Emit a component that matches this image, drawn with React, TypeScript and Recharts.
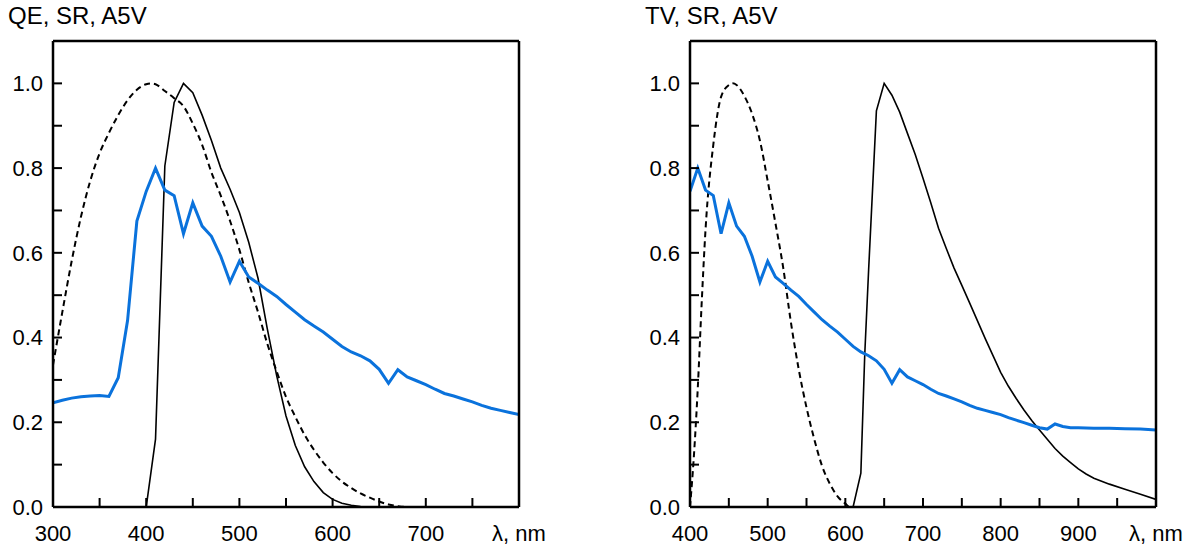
import React from 'react';
import { LineChart, Line, XAxis, YAxis } from 'recharts';

// QE curve (blue), shared by both panels
const qeNm = [300, 310, 320, 330, 340, 350, 360, 370, 380, 390, 400, 410, 420, 430, 440, 450, 460, 470, 480, 490, 500, 510, 520, 530, 540, 550, 560, 570, 580, 590, 600, 610, 620, 630, 640, 650, 660, 670, 680, 690, 700, 710, 720, 730, 740, 750, 760, 770, 780, 790, 800, 810, 820, 830, 840, 850, 860, 870, 880, 890, 900, 920, 940, 960, 980, 1000];
const qeVal = [0.246, 0.252, 0.257, 0.26, 0.262, 0.263, 0.261, 0.305, 0.44, 0.675, 0.745, 0.8, 0.748, 0.735, 0.645, 0.718, 0.663, 0.639, 0.592, 0.531, 0.58, 0.543, 0.528, 0.512, 0.497, 0.478, 0.46, 0.442, 0.427, 0.413, 0.396, 0.379, 0.366, 0.357, 0.345, 0.325, 0.292, 0.324, 0.307, 0.298, 0.289, 0.278, 0.268, 0.262, 0.255, 0.248, 0.24, 0.233, 0.228, 0.223, 0.218, 0.211, 0.205, 0.199, 0.193, 0.187, 0.184, 0.196, 0.19, 0.187, 0.187, 0.186, 0.186, 0.185, 0.184, 0.182];

// spectral response, left panel (solid)
const srNm = [400, 410, 420, 430, 440, 450, 460, 470, 480, 490, 500, 510, 520, 530, 540, 550, 560, 570, 580, 590, 600, 610, 620, 630, 640, 800];
const srVal = [0, 0.16, 0.805, 0.955, 1.0, 0.978, 0.925, 0.865, 0.8, 0.75, 0.695, 0.625, 0.54, 0.42, 0.31, 0.215, 0.145, 0.095, 0.06, 0.034, 0.018, 0.009, 0.004, 0.001, 0, 0];

// A5V curve, left panel (dashed)
const a5vNm = [300, 310, 320, 330, 340, 350, 360, 370, 380, 390, 400, 405, 410, 420, 430, 440, 450, 460, 470, 480, 490, 500, 510, 520, 530, 540, 550, 560, 570, 580, 590, 600, 610, 620, 630, 640, 650, 660, 670, 680, 800];
const a5vVal = [0.335, 0.46, 0.58, 0.685, 0.77, 0.835, 0.883, 0.925, 0.96, 0.985, 0.998, 1.0, 0.998, 0.982, 0.965, 0.946, 0.905, 0.855, 0.79, 0.735, 0.675, 0.607, 0.53, 0.46, 0.385, 0.32, 0.26, 0.213, 0.17, 0.135, 0.105, 0.08, 0.06, 0.045, 0.032, 0.022, 0.013, 0.006, 0.002, 0, 0];

// TV curve, right panel (solid)
const tvNm = [600, 610, 620, 625, 630, 640, 650, 660, 670, 680, 690, 700, 710, 720, 730, 740, 750, 760, 770, 780, 790, 800, 810, 820, 830, 840, 850, 860, 870, 880, 890, 900, 910, 920, 940, 960, 980, 1000];
const tvVal = [0, 0, 0.08, 0.36, 0.56, 0.935, 1.0, 0.972, 0.932, 0.882, 0.832, 0.776, 0.718, 0.658, 0.61, 0.564, 0.523, 0.482, 0.44, 0.398, 0.358, 0.318, 0.285, 0.256, 0.229, 0.204, 0.182, 0.16, 0.138, 0.12, 0.105, 0.09, 0.078, 0.068, 0.054, 0.042, 0.03, 0.018];

// A5V curve, right panel (dashed)
const a5vTvNm = [400, 405, 410, 415, 420, 430, 440, 450, 455, 460, 470, 480, 490, 500, 510, 520, 530, 540, 550, 560, 570, 580, 590, 600, 606, 1000];
const a5vTvVal = [0, 0.12, 0.28, 0.48, 0.655, 0.855, 0.968, 0.996, 1.0, 0.996, 0.97, 0.928, 0.865, 0.77, 0.67, 0.565, 0.435, 0.325, 0.235, 0.16, 0.097, 0.055, 0.025, 0.008, 0, 0];

const yTicks = [0, 0.1, 0.2, 0.3, 0.4, 0.5, 0.6, 0.7, 0.8, 0.9, 1.0];
const leftXTicks = [300, 350, 400, 450, 500, 550, 600, 650, 700, 750, 800];
const rightXTicks = [400, 450, 500, 550, 600, 650, 700, 750, 800, 850, 900, 950, 1000];

const BLUE = '#0a72dc';
const FONT = '"Liberation Sans", Arial, sans-serif';

const zip = (xs: number[], ys: number[], lo: number, hi: number) =>
  xs.map((x, i) => ({ x, v: ys[i] })).filter(p => p.x >= lo && p.x <= hi);

type Series = { nm: number[]; val: number[]; color: string; width: number; dash?: string; kind: 'linear' | 'monotone' };

function Panel({ title, left, width, domain, xTicks, series }: {
  title: string; left: number; width: number; domain: [number, number]; xTicks: number[]; series: Series[];
}) {
  const last = domain[1];
  const fmtX = (v: number) => (v === last ? 'λ, nm' : v % 100 === 0 ? String(v) : '');
  const fmtY = (v: number) => (Math.round(v * 10) % 2 === 0 ? v.toFixed(1) : '');
  const tick = { fill: '#000', fontSize: 22, fontFamily: FONT };
  const axisLine = { stroke: '#000', strokeWidth: 2.5 };
  const tickLine = { stroke: '#000', strokeWidth: 2 };

  return (
    <div style={{ position: 'absolute', left, top: 0, width, height: 552 }}>
      <div style={{ position: 'absolute', left: 8, top: 4, fontFamily: FONT, fontSize: 24, lineHeight: 1, whiteSpace: 'nowrap' }}>
        {title}
      </div>
      {/* plot box: 53..519 horizontally inside each panel, 41..507 vertically */}
      <LineChart width={width} height={552} margin={{ top: 40, right: width - 520, bottom: 5, left: 8 }}>
        <XAxis xAxisId="b" type="number" dataKey="x" domain={domain} ticks={xTicks} interval={0} allowDataOverflow
          tickFormatter={fmtX} tickSize={-9} tickMargin={27} height={40} axisLine={axisLine} tickLine={tickLine} tick={tick} />
        <XAxis xAxisId="t" orientation="top" type="number" dataKey="x" domain={domain} ticks={xTicks} interval={0} allowDataOverflow
          tick={false} tickSize={-9} height={1} axisLine={axisLine} tickLine={tickLine} />
        <YAxis yAxisId="l" type="number" domain={[0, 1.1]} ticks={yTicks} interval={0} allowDataOverflow
          tickFormatter={fmtY} tickSize={-9} tickMargin={19} width={45} axisLine={axisLine} tickLine={tickLine} tick={tick} />
        <YAxis yAxisId="r" orientation="right" type="number" domain={[0, 1.1]} ticks={yTicks} interval={0} allowDataOverflow
          tick={false} tickSize={-9} width={1} axisLine={axisLine} tickLine={tickLine} />
        {series.map((s, i) => (
          <Line key={i} xAxisId="b" yAxisId="l" data={zip(s.nm, s.val, domain[0], domain[1])} dataKey="v"
            type={s.kind} stroke={s.color} strokeWidth={s.width} strokeDasharray={s.dash} dot={false}
            activeDot={false} isAnimationActive={false} />
        ))}
      </LineChart>
    </div>
  );
}

export default function App() {
  const leftSeries: Series[] = [
    { nm: a5vNm, val: a5vVal, color: '#000', width: 2, dash: '6 4', kind: 'monotone' },
    { nm: srNm, val: srVal, color: '#000', width: 1.6, kind: 'linear' },
    { nm: qeNm, val: qeVal, color: BLUE, width: 3, kind: 'linear' },
  ];
  const rightSeries: Series[] = [
    { nm: a5vTvNm, val: a5vTvVal, color: '#000', width: 2, dash: '6 4', kind: 'monotone' },
    { nm: tvNm, val: tvVal, color: '#000', width: 1.6, kind: 'linear' },
    { nm: qeNm, val: qeVal, color: BLUE, width: 3, kind: 'linear' },
  ];
  return (
    <div style={{ position: 'absolute', left: 0, top: 0, width: 1195, height: 552, overflow: 'hidden', background: '#fff' }}>
      <Panel title="QE, SR, A5V" left={0} width={560} domain={[300, 800]} xTicks={leftXTicks} series={leftSeries} />
      <Panel title="TV, SR, A5V" left={637} width={558} domain={[400, 1000]} xTicks={rightXTicks} series={rightSeries} />
    </div>
  );
}
